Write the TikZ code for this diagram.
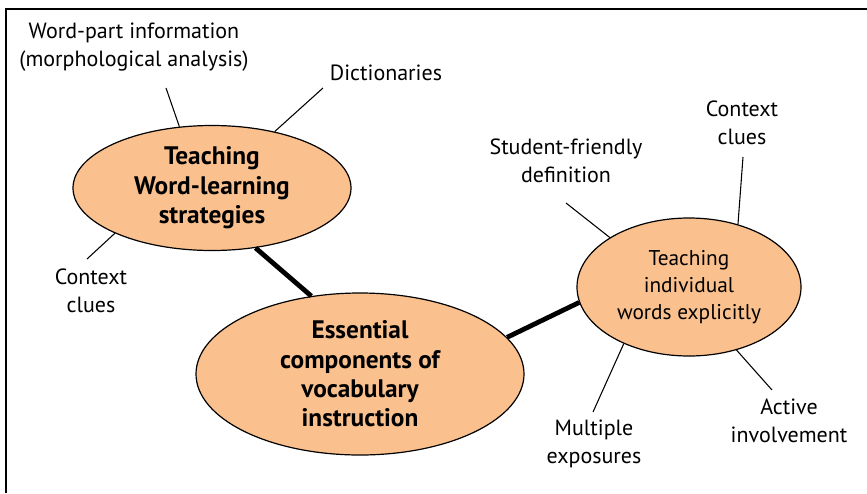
\documentclass[tikz,border=0pt]{standalone}
\usepackage{fontspec}
\setmainfont{PT Sans}
\usetikzlibrary{shapes.geometric}

\definecolor{peach}{RGB}{250,193,143}

\tikzset{
  topic/.style={ellipse, draw, fill=peach, line width=0.9pt, inner sep=0pt, align=center},
  note/.style={align=center, font=\fontsize{16.5}{21}\selectfont},
  spoke/.style={line width=0.8pt},
  link/.style={line width=3.6pt},
}

\begin{document}
\begin{tikzpicture}[x=0.75pt, y=-0.75pt]
\useasboundingbox (0,0) rectangle (867,493);

% frame
\draw [line width=1.6pt] (6,493) -- (6,9) -- (867,9);

% the three topics
\node [topic, minimum width=208.5pt, minimum height=93.75pt,
       font=\bfseries\fontsize{19}{22}\selectfont] (strat) at (212,188)
      {Teaching\\Word-learning\\strategies};
\node [topic, minimum width=246pt, minimum height=121.5pt,
       font=\bfseries\fontsize{19}{22}\selectfont] (ess) at (360,374)
      {Essential\\components of\\vocabulary\\instruction};
\node [topic, minimum width=168pt, minimum height=103.5pt,
       font=\fontsize{16}{20.5}\selectfont] (indiv) at (689,287)
      {Teaching\\individual\\words explicitly};

\draw [link] (strat.306) -- (ess.122);
\draw [link] (ess.14) -- (indiv.188);

% labels round the topics
\node [note] (wordpart) at (134,47) {Word-part information\\(morphological analysis)};
\node [note] (dict) at (386,73) {Dictionaries};
\node [note] (ctxl) at (91,291) {Context\\clues};
\node [note] (friendly) at (566,161) {Student-friendly\\definition};
\node [note] (ctxr) at (742,123) {Context\\clues};
\node [note] (multi) at (594,444) {Multiple\\exposures};
\node [note] (active) at (789,421) {Active\\involvement};

% free ends of the spokes
\coordinate (wordpart-end) at (166,88);
\coordinate (dict-end) at (323,88);
\coordinate (ctxl-end) at (87,259);
\coordinate (friendly-end) at (566,203);
\coordinate (ctxr-end) at (743,157);
\coordinate (multi-end) at (593,412);
\coordinate (active-end) at (772,390);

\draw [spoke] (wordpart-end) -- (strat.118);
\draw [spoke] (dict-end) -- (strat.42);
\draw [spoke] (ctxl-end) -- (strat.205);
\draw [spoke] (friendly-end) -- (indiv.148);
\draw [spoke] (ctxr-end) -- (indiv.52);
\draw [spoke] (multi-end) -- (indiv.221);
\draw [spoke] (active-end) -- (indiv.307);

\end{tikzpicture}
\end{document}
